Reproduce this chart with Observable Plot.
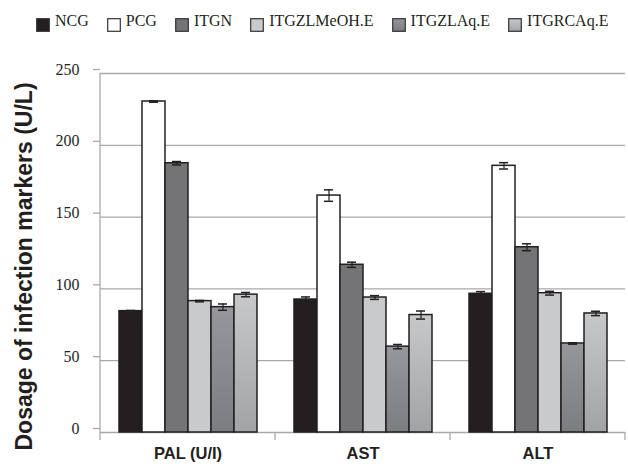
<!DOCTYPE html>
<html>
<head>
<meta charset="utf-8">
<script src="https://cdn.jsdelivr.net/npm/d3@7"></script>
<script src="https://cdn.jsdelivr.net/npm/@observablehq/plot@0.6"></script>
<style>
  body { margin: 0; background: #fff; width: 628px; height: 467px; overflow: hidden; }
  #legend { height: 36px; box-sizing: border-box; padding-top: 12px; padding-left: 36px; display: flex; align-items: flex-start;
            font-family: "Liberation Serif", serif; font-size: 16px; line-height: 18px; color: #231f20; white-space: nowrap; }
  .item { display: flex; align-items: flex-start; margin-right: 18px; }
  .item svg { margin-top: 6px; margin-right: 5px; display: block; }
  #chart svg { display: block; }
</style>
</head>
<body>
<svg width="0" height="0" style="position:absolute">
  <defs>
    <linearGradient id="gZL" x1="0" y1="0" x2="0" y2="1">
      <stop offset="0" stop-color="#96979a"/>
      <stop offset="1" stop-color="#7c7d80"/>
    </linearGradient>
    <linearGradient id="gRC" x1="0" y1="0" x2="0" y2="1">
      <stop offset="0" stop-color="#c7c8ca"/>
      <stop offset="1" stop-color="#a2a3a5"/>
    </linearGradient>
  </defs>
</svg>
<div id="legend"></div>
<div id="chart"></div>
<script>
// ---- data ----
const groups = ["PAL (U/I)", "AST", "ALT"];
const series = ["NCG", "PCG", "ITGN", "ITGZLMeOH.E", "ITGZLAq.E", "ITGRCAq.E"];
const palValues = [84.5, 230.5, 187.5, 91.5, 87.3, 96.0];
const astValues = [92.6, 165.0, 116.8, 94.0, 59.8, 81.8];
const altValues = [96.6, 185.7, 129.0, 97.0, 62.0, 82.9];
const palErrors = [0.5, 0.5, 1.2, 0.5, 2.2, 1.5];
const astErrors = [1.8, 4.0, 1.8, 1.3, 1.5, 2.8];
const altErrors = [1.5, 2.2, 2.4, 1.3, 0.5, 1.5];
const yTicks = [0, 50, 100, 150, 200, 250];
const yTitle = "Dosage of infection markers (U/L)";

// ---- styles ----
const fills = ["#231f20", "#ffffff", "#747477", "#c9cacc", "url(#gZL)", "url(#gRC)"];
const ink = "#231f20";
const gridColor = "#a9a9ab";

const valuesByGroup = [palValues, astValues, altValues];
const errorsByGroup = [palErrors, astErrors, altErrors];
const data = [];
groups.forEach((g, gi) => series.forEach((s, si) => data.push({
  group: g, series: s, value: valuesByGroup[gi][si], err: errorsByGroup[gi][si]
})));

// legend
const legend = document.getElementById("legend");
series.forEach((s, i) => {
  const item = document.createElement("div");
  item.className = "item";
  item.innerHTML = `<svg width="14" height="14"><rect x="0.7" y="0.7" width="12.6" height="12.6" fill="${fills[i]}" stroke="#333" stroke-width="1.2"/></svg><span>${s}</span>`;
  legend.appendChild(item);
});

const plot = Plot.plot({
  width: 628,
  height: 431,
  marginTop: 37,
  marginBottom: 35,
  marginLeft: 100,
  marginRight: 3,
  style: { background: "#fff", color: ink, overflow: "visible" },
  fx: { domain: groups, padding: 0, label: null },
  x: { domain: series, paddingInner: 0, paddingOuter: 0.77, axis: null },
  y: { domain: [0, 250], label: null },
  color: { domain: series, range: fills },
  marks: [
    Plot.gridY(yTicks, { stroke: gridColor, strokeOpacity: 1, strokeWidth: 1.3 }),
    Plot.axisY(yTicks, { tickSize: 7, tickPadding: 14, stroke: gridColor, strokeWidth: 1.3, fill: ink,
      fontFamily: "Liberation Serif", fontSize: 16, dy: -4, label: null }),
    Plot.axisFx({ anchor: "bottom", tickSize: 0, tickPadding: 15, fontFamily: "Liberation Sans",
      fontWeight: "bold", fontSize: 16.5, fill: ink, label: null }),
    Plot.barY(data, { fx: "group", x: "series", y: "value", fill: "series", stroke: ink, strokeWidth: 1.5 }),
    Plot.ruleX(data, { fx: "group", x: "series", y1: d => d.value - d.err, y2: d => d.value + d.err, stroke: ink, strokeWidth: 1.2 }),
    Plot.tickY(data, { fx: "group", x: "series", y: d => d.value + d.err, insetLeft: 7, insetRight: 7, stroke: ink, strokeWidth: 1.5 }),
    Plot.tickY(data, { fx: "group", x: "series", y: d => d.value - d.err, insetLeft: 7, insetRight: 7, stroke: ink, strokeWidth: 1.5 })
  ]
});
document.getElementById("chart").appendChild(plot);

// axis line, group separator ticks and y title, positioned from Plot's scales
const fxs = plot.scale("fx"), ys = plot.scale("y");
const svg = d3.select(plot);
const y0 = ys.apply(0), yTop = ys.apply(yTicks[yTicks.length - 1]);
const xStart = fxs.apply(groups[0]);
const gAxis = svg.append("g").attr("stroke", gridColor).attr("stroke-width", 1.3);
gAxis.append("line").attr("x1", xStart).attr("x2", xStart).attr("y1", yTop).attr("y2", y0 + 8);
groups.forEach(gr => {
  const xe = fxs.apply(gr) + fxs.bandwidth;
  gAxis.append("line").attr("x1", xe).attr("x2", xe).attr("y1", y0).attr("y2", y0 + 8);
});
svg.append("text")
  .attr("transform", `translate(32,${(y0 + yTop) / 2 + 14}) rotate(-90)`)
  .attr("text-anchor", "middle")
  .attr("font-family", "Liberation Sans, Arial, sans-serif")
  .attr("font-weight", "bold")
  .attr("font-size", 23)
  .attr("fill", ink)
  .text(yTitle);
</script>
</body>
</html>
